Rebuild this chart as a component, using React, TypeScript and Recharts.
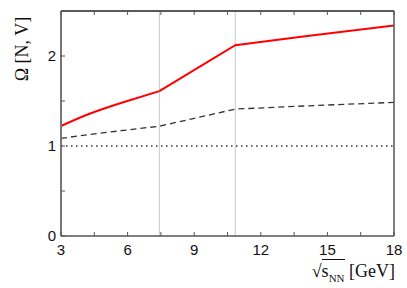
import { LineChart, Line, XAxis, YAxis, ReferenceLine } from "recharts"

const energies = [3, 4.2, 5.7, 7.43, 10.85, 14, 18]
// red curve: smooth below the first transition, straight segments above it
const omegaRedLow = [1.222, 1.35, 1.478, 1.61, null, null, null]
const omegaRedHigh = [null, null, null, 1.61, 2.12, 2.22, 2.34]
const omegaDashed = [1.085, 1.125, 1.17, 1.22, 1.41, 1.445, 1.485]
const omegaUnity = [1, 1, 1, 1, 1, 1, 1]
const xTicks = [3, 4.5, 6, 7.5, 9, 10.5, 12, 13.5, 15, 16.5, 18]
const yTicks = [0, 0.5, 1, 1.5, 2, 2.5]
const transitions = [7.43, 10.85]

const data = energies.map((e, i) => ({
  e,
  redLow: omegaRedLow[i],
  redHigh: omegaRedHigh[i],
  dashed: omegaDashed[i],
  unity: omegaUnity[i],
}))

const axisColor = "#555"
const tickFont = "'Liberation Sans', Arial, sans-serif"
const tickLen = 4

// ticks point inward, labels only on major values
const BottomTick = ({ x, y, payload }: any) => (
  <g>
    <line x1={x} x2={x} y1={y} y2={y - tickLen} stroke={axisColor} />
    {payload.value % 3 === 0 && (
      <text x={x} y={y + 19} textAnchor="middle" fontFamily={tickFont} fontSize={15} fill="#111">
        {payload.value}
      </text>
    )}
  </g>
)

const TopTick = ({ x, y }: any) => <line x1={x} x2={x} y1={y} y2={y + tickLen} stroke={axisColor} />

const LeftTick = ({ x, y, payload }: any) => (
  <g>
    <line x1={x} x2={x + tickLen} y1={y} y2={y} stroke={axisColor} />
    {payload.value % 1 === 0 && (
      <text x={x - 5} y={y + 5} textAnchor="end" fontFamily={tickFont} fontSize={15} fill="#111">
        {payload.value}
      </text>
    )}
  </g>
)

const RightTick = ({ x, y }: any) => <line x1={x} x2={x - tickLen} y1={y} y2={y} stroke={axisColor} />

export default function App() {
  return (
    <div style={{ position: "absolute", left: 0, top: 0, width: 407, height: 288, background: "#fff" }}>
      <LineChart width={407} height={288} data={data} margin={{ top: 10, right: 12, bottom: 0, left: 0 }}>
        <XAxis
          dataKey="e"
          type="number"
          domain={[3, 18]}
          ticks={xTicks}
          interval={0}
          tickLine={false}
          tickSize={0}
          tickMargin={0}
          tick={<BottomTick />}
          height={52}
          stroke={axisColor}
          strokeWidth={1.5}
        />
        <XAxis
          xAxisId="top"
          dataKey="e"
          type="number"
          orientation="top"
          domain={[3, 18]}
          ticks={xTicks}
          interval={0}
          tickLine={false}
          tickSize={0}
          tickMargin={0}
          tick={<TopTick />}
          height={1}
          stroke="#222"
          strokeWidth={1.5}
        />
        <YAxis
          type="number"
          domain={[0, 2.5]}
          ticks={yTicks}
          interval={0}
          tickLine={false}
          tickSize={0}
          tickMargin={0}
          tick={<LeftTick />}
          width={61}
          stroke="#777"
          strokeWidth={2}
        />
        <YAxis
          yAxisId="right"
          type="number"
          orientation="right"
          domain={[0, 2.5]}
          ticks={yTicks}
          interval={0}
          tickLine={false}
          tickSize={0}
          tickMargin={0}
          tick={<RightTick />}
          width={1}
          stroke={axisColor}
          strokeWidth={1.5}
        />
        {transitions.map((t) => (
          <ReferenceLine key={t} x={t} stroke="#c8c8c8" strokeWidth={1} />
        ))}
        <Line type="linear" dataKey="unity" stroke="#333" strokeWidth={1.5} strokeDasharray="1.5 3.5" dot={false} isAnimationActive={false} />
        <Line type="linear" dataKey="dashed" stroke="#333" strokeWidth={1.3} strokeDasharray="6 4" dot={false} isAnimationActive={false} />
        <Line type="natural" dataKey="redLow" stroke="#ff0000" strokeWidth={2} dot={false} isAnimationActive={false} />
        <Line type="linear" dataKey="redHigh" stroke="#ff0000" strokeWidth={2} dot={false} isAnimationActive={false} />
      </LineChart>
      <div
        style={{
          position: "absolute",
          left: 22,
          top: 49,
          transform: "translate(-50%, -50%) rotate(-90deg)",
          fontFamily: "'Liberation Serif', 'Times New Roman', serif",
          fontSize: 18,
          whiteSpace: "nowrap",
          color: "#111",
        }}
      >
        Ω [N, V]
      </div>
      <div
        style={{
          position: "absolute",
          right: 12,
          top: 261,
          fontFamily: "'Liberation Serif', 'Times New Roman', serif",
          fontSize: 18,
          whiteSpace: "nowrap",
          color: "#111",
          lineHeight: "20px",
        }}
      >
        √<span style={{ borderTop: "1px solid #111", paddingTop: 1 }}>s<sub style={{ fontSize: 11 }}>NN</sub></span> [GeV]
      </div>
    </div>
  )
}
